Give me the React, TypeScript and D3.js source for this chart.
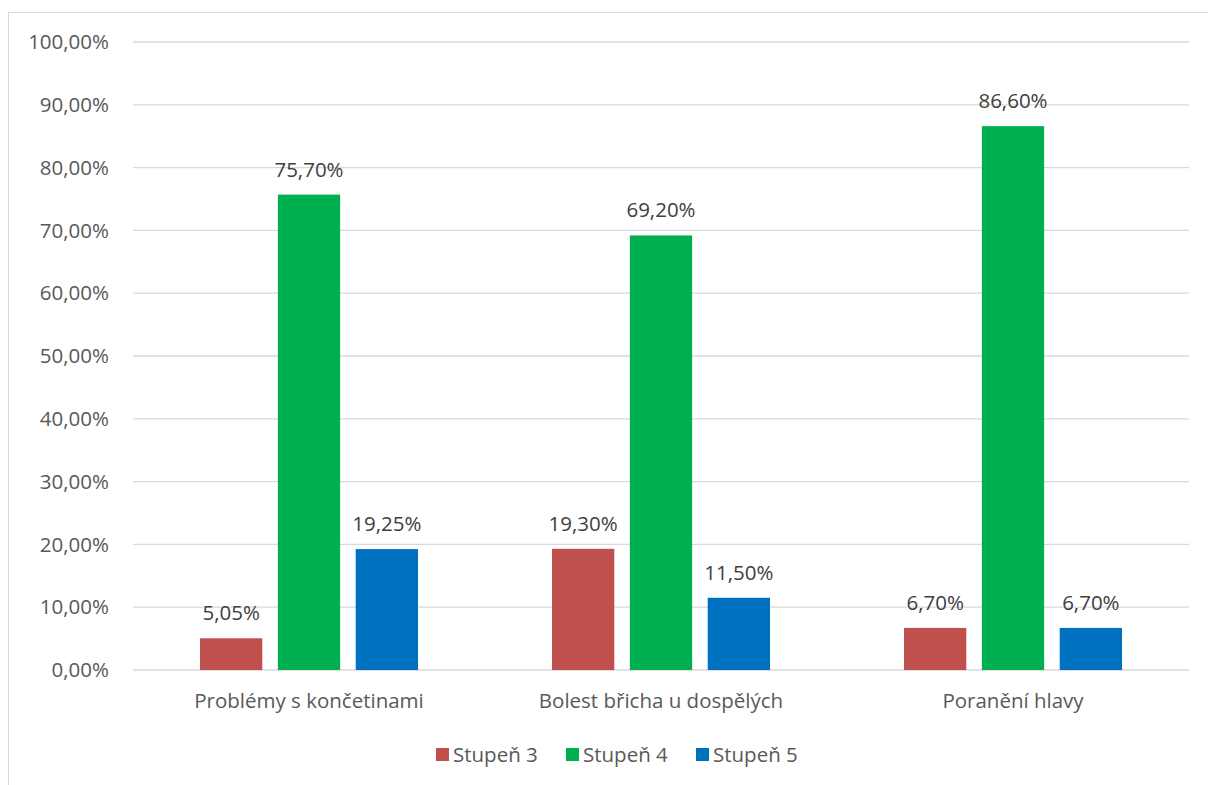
import React from "react";
import * as d3 from "d3";

const categories = ["Problémy s končetinami", "Bolest břicha u dospělých", "Poranění hlavy"];
const seriesNames = ["Stupeň 3", "Stupeň 4", "Stupeň 5"];
const stupen3 = [5.05, 19.3, 6.7];
const stupen4 = [75.7, 69.2, 86.6];
const stupen5 = [19.25, 11.5, 6.7];
const yTicks = [0, 10, 20, 30, 40, 50, 60, 70, 80, 90, 100];
const colors = ["#C0504D", "#00B050", "#0070C0"];

const W = 1208;
const H = 785;
const FONT = "'Open Sans', sans-serif";
const FS = 20.5;

const fmt = (v: number) => v.toFixed(2).replace(".", ",") + "%";

export default function App() {
  const series = [stupen3, stupen4, stupen5];
  const left = 133;
  const right = 1189;
  const top = 42;
  const bottom = 670;

  const x0 = d3.scaleBand<string>().domain(categories).range([left, right]).paddingInner(0).paddingOuter(0);
  const x1 = d3
    .scaleBand<string>()
    .domain(seriesNames)
    .range([67, x0.bandwidth() - 67])
    .paddingInner(0.2);
  const y = d3.scaleLinear().domain([0, 100]).range([bottom, top]);

  return (
    <div style={{ position: "fixed", left: 0, top: 0, width: W, height: H, background: "#fff" }}>
      <svg width={W} height={H} style={{ display: "block", fontFamily: FONT }}>
        <rect x={8.5} y={12.5} width={W + 20} height={H + 20} fill="#fff" stroke="#d9d9d9" strokeWidth={1} />
        {yTicks.map((t) => (
          <g key={t}>
            <line x1={left} x2={right} y1={y(t)} y2={y(t)} stroke="#d9d9d9" strokeWidth={1.3} />
            <text x={109} y={y(t)} dy="0.35em" textAnchor="end" fontSize={FS} fill="#595959">
              {fmt(t)}
            </text>
          </g>
        ))}
        {categories.map((c, ci) => (
          <g key={c} transform={`translate(${x0(c)},0)`}>
            {seriesNames.map((s, si) => {
              const v = series[si][ci];
              const bx = x1(s)!;
              return (
                <g key={s}>
                  <rect x={bx} y={y(v)} width={x1.bandwidth()} height={y(0) - y(v)} fill={colors[si]} />
                  <text
                    x={bx + x1.bandwidth() / 2}
                    y={y(v) - 18}
                    textAnchor="middle"
                    fontSize={FS}
                    fill="#404040"
                  >
                    {fmt(v)}
                  </text>
                </g>
              );
            })}
            <text x={x0.bandwidth() / 2} y={701} dy="0.35em" textAnchor="middle" fontSize={FS} fill="#595959">
              {c}
            </text>
          </g>
        ))}
        <g>
          {seriesNames.map((s, i) => {
            const lx = 436 + i * 130;
            return (
              <g key={s}>
                <rect x={lx} y={748} width={13} height={13} fill={colors[i]} />
                <text x={lx + 17} y={755} dy="0.35em" fontSize={FS} fill="#595959">
                  {s}
                </text>
              </g>
            );
          })}
        </g>
      </svg>
    </div>
  );
}
